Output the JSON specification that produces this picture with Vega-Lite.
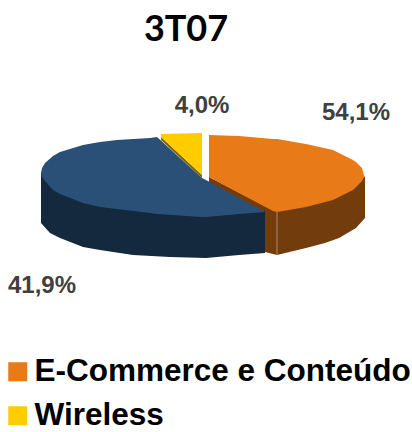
{
"$schema":"https://vega.github.io/schema/vega-lite/v6.json",
"width":412,"height":432,"padding":0,"autosize":{"type":"none"},
"background":"white",
"config":{"view":{"stroke":null}},
"title":{"text":"3T07","font":"Lato","fontWeight":"bold","fontSize":36,"color":"#000000","anchor":"middle","frame":"group","dx":-20,"dy":81,"baseline":"alphabetic"},
"datasets":{
"contorno":[
{"segmento":"E-Commerce e Conteúdo","parte":"lateral","h":209,"v1":177,"v2":250},
{"segmento":"E-Commerce e Conteúdo","parte":"lateral","h":265,"v1":206,"v2":252},
{"segmento":"E-Commerce e Conteúdo","parte":"lateral","h":277,"v1":210,"v2":255},
{"segmento":"E-Commerce e Conteúdo","parte":"lateral","h":306,"v1":205,"v2":248},
{"segmento":"E-Commerce e Conteúdo","parte":"lateral","h":325,"v1":200,"v2":243},
{"segmento":"E-Commerce e Conteúdo","parte":"lateral","h":339,"v1":195,"v2":238},
{"segmento":"E-Commerce e Conteúdo","parte":"lateral","h":356,"v1":185,"v2":228},
{"segmento":"E-Commerce e Conteúdo","parte":"lateral","h":365,"v1":176,"v2":218},
{"segmento":"Wireless","parte":"lateral","h":161,"v1":137,"v2":140},
{"segmento":"Wireless","parte":"lateral","h":202,"v1":175,"v2":178},
{"segmento":"Outros","parte":"lateral","h":41,"v1":172,"v2":223},
{"segmento":"Outros","parte":"lateral","h":50,"v1":185,"v2":233},
{"segmento":"Outros","parte":"lateral","h":60,"v1":193,"v2":238},
{"segmento":"Outros","parte":"lateral","h":83,"v1":202,"v2":247},
{"segmento":"Outros","parte":"lateral","h":100,"v1":206,"v2":250},
{"segmento":"Outros","parte":"lateral","h":133,"v1":210,"v2":255},
{"segmento":"Outros","parte":"lateral","h":170,"v1":214,"v2":257},
{"segmento":"Outros","parte":"lateral","h":206,"v1":216,"v2":258},
{"segmento":"Outros","parte":"lateral","h":239,"v1":213,"v2":255},
{"segmento":"Outros","parte":"lateral","h":265,"v1":211,"v2":253},
{"segmento":"Outros","parte":"topo","h":41,"v1":173,"v2":173},
{"segmento":"Outros","parte":"topo","h":42,"v1":168,"v2":177},
{"segmento":"Outros","parte":"topo","h":45,"v1":163,"v2":181},
{"segmento":"Outros","parte":"topo","h":53,"v1":156,"v2":190},
{"segmento":"Outros","parte":"topo","h":60,"v1":152,"v2":194},
{"segmento":"Outros","parte":"topo","h":83,"v1":145,"v2":203},
{"segmento":"Outros","parte":"topo","h":100,"v1":142,"v2":207},
{"segmento":"Outros","parte":"topo","h":117,"v1":140,"v2":209},
{"segmento":"Outros","parte":"topo","h":150,"v1":138,"v2":213},
{"segmento":"Outros","parte":"topo","h":157,"v1":137,"v2":214},
{"segmento":"Outros","parte":"topo","h":202,"v1":178,"v2":217},
{"segmento":"Outros","parte":"topo","h":206,"v1":180,"v2":217},
{"segmento":"Outros","parte":"topo","h":239,"v1":198,"v2":214},
{"segmento":"Outros","parte":"topo","h":265,"v1":212,"v2":212},
{"segmento":"E-Commerce e Conteúdo","parte":"topo","h":209,"v1":135,"v2":177},
{"segmento":"E-Commerce e Conteúdo","parte":"topo","h":239,"v1":136,"v2":193},
{"segmento":"E-Commerce e Conteúdo","parte":"topo","h":273,"v1":139,"v2":211},
{"segmento":"E-Commerce e Conteúdo","parte":"topo","h":277,"v1":139,"v2":212},
{"segmento":"E-Commerce e Conteúdo","parte":"topo","h":306,"v1":144,"v2":207},
{"segmento":"E-Commerce e Conteúdo","parte":"topo","h":333,"v1":150,"v2":200},
{"segmento":"E-Commerce e Conteúdo","parte":"topo","h":339,"v1":153,"v2":197},
{"segmento":"E-Commerce e Conteúdo","parte":"topo","h":353,"v1":160,"v2":190},
{"segmento":"E-Commerce e Conteúdo","parte":"topo","h":356,"v1":162,"v2":187},
{"segmento":"E-Commerce e Conteúdo","parte":"topo","h":362,"v1":168,"v2":181},
{"segmento":"E-Commerce e Conteúdo","parte":"topo","h":364,"v1":175,"v2":177},
{"segmento":"Wireless","parte":"topo","h":161,"v1":134,"v2":137},
{"segmento":"Wireless","parte":"topo","h":202,"v1":133,"v2":175}
],
"aresta":[{"h":277,"v1":212,"v2":255}],
"rotulos":[
{"segmento":"E-Commerce e Conteúdo","participacao":"54,1%","h":356,"v":113},
{"segmento":"Wireless","participacao":"4,0%","h":202,"v":106},
{"segmento":"Outros","participacao":"41,9%","h":42,"v":286}
]
},
"encoding":{
"x":{"field":"h","type":"quantitative","axis":null,"scale":{"domain":[0,412],"nice":false,"zero":false}},
"y":{"field":"v1","type":"quantitative","axis":null,"scale":{"domain":[432,0],"nice":false,"zero":false}}
},
"layer":[
{"data":{"name":"contorno"},"transform":[{"filter":"datum.parte==='lateral' && datum.segmento==='E-Commerce e Conteúdo'"}],"mark":{"type":"area","color":"#733C0C","interpolate":"linear"},"encoding":{"y2":{"field":"v2"}}},
{"data":{"name":"contorno"},"transform":[{"filter":"datum.parte==='lateral' && datum.segmento==='Wireless'"}],"mark":{"type":"area","color":"#7F6500","interpolate":"linear"},"encoding":{"y2":{"field":"v2"}}},
{"data":{"name":"contorno"},"transform":[{"filter":"datum.parte==='lateral' && datum.segmento==='Outros'"}],"mark":{"type":"area","color":"#14293D","interpolate":"linear"},"encoding":{"y2":{"field":"v2"}}},
{"data":{"name":"aresta"},"mark":{"type":"rule","color":"#A98A6A","strokeWidth":1},"encoding":{"y2":{"field":"v2"}}},
{"data":{"name":"contorno"},"transform":[{"filter":"datum.parte==='topo'"}],"mark":{"type":"area","interpolate":"linear"},
"encoding":{"y2":{"field":"v2"},
"color":{"field":"segmento","type":"nominal",
"scale":{"domain":["E-Commerce e Conteúdo","Wireless","Outros"],"range":["#E87A17","#FFCC00","#2A5078"]},
"legend":{"values":["E-Commerce e Conteúdo","Wireless"],"title":null,"orient":"none","legendX":2,"legendY":356,"symbolType":"square","symbolSize":361,"symbolOpacity":1,"labelFont":"Liberation Sans","labelFontWeight":"bold","labelFontSize":31.5,"labelColor":"#000000","labelLimit":500,"labelOffset":1,"rowPadding":11,"symbolStrokeWidth":0}}}},
{"data":{"name":"rotulos"},"mark":{"type":"text","font":"Liberation Sans","fontWeight":"bold","fontSize":24,"color":"#404040","align":"center","baseline":"middle"},
"encoding":{"y":{"field":"v","type":"quantitative"},"text":{"field":"participacao"}}}
]
}
